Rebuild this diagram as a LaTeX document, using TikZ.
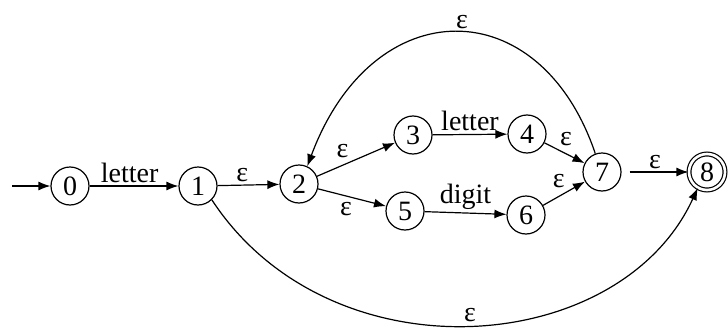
\documentclass[tikz,border=0pt]{standalone}
\usepackage{fontspec}
\setmainfont{Liberation Serif}
\usetikzlibrary{arrows.meta, positioning}

\begin{document}
\begin{tikzpicture}[
    x=0.5pt, y=-0.5pt,
    font=\rmfamily\fontsize{14}{16}\selectfont,
    state/.style={circle, draw=black, line width=0.6pt, minimum size=19pt, inner sep=0pt},
    accept/.style={state, double, double distance=1.3pt, minimum size=18pt},
    arrow/.style={line width=0.6pt,-{Latex[length=6pt, width=4.5pt]}},
    lbl/.style={inner sep=1.5pt}
]
\useasboundingbox (0,0) rectangle (728,332);

\node (s0) [state] at (70,186) {0};
\node (s1) [state] at (198,186) {1};
\node (s2) [state] at (299,184) {2};
\node (s3) [state] at (413,135) {3};
\node (s4) [state] at (527,134) {4};
\node (s5) [state] at (405,211) {5};
\node (s6) [state] at (526,215) {6};
\node (s7) [state] at (602,172) {7};
\node (s8) [accept] at (707,172) {8};
\coordinate (start) at (12,186);

\draw [arrow] (start) -- (s0);
\draw [arrow] (s0) -- node[lbl, above, pos=0.45] {letter} (s1);
\draw [arrow] (s1) -- node[lbl, above, pos=0.4] {ε} (s2);
\draw [arrow] (s2) -- node[lbl, above left, pos=0.45] {ε} (s3);
\draw [arrow] (s2) -- node[lbl, below left, pos=0.55] {ε} (s5);
\draw [arrow] (s3) -- node[lbl, above] {letter} (s4);
\draw [arrow] (s5) -- node[lbl, above] {digit} (s6);
\draw [arrow] (s4) -- node[lbl, above right, pos=0.3] {ε} (s7);
\draw [arrow] (s6) -- node[lbl, above left, pos=0.6] {ε} (s7);
\draw [arrow, shorten <=4pt] (s7) -- node[lbl, above] {ε} (s8);
\draw [arrow] (s7.110) .. controls (540,-10) and (373,-10) .. node[lbl, above, pos=0.48] {ε} (s2.65);
\draw [arrow] (s1.-45) .. controls (330,380) and (620,358) .. node[lbl, above, pos=0.5] {ε} (s8.-120);

\end{tikzpicture}
\end{document}
